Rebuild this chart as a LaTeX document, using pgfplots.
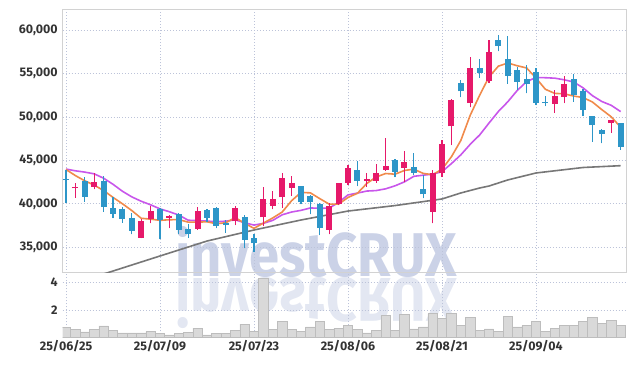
\documentclass[border=0pt]{standalone}
\usepackage{fontspec}
\setmainfont{Fira Sans}
\usepackage{graphicx}
\usepackage{pgfplots}
\pgfplotsset{compat=1.18}
\usepackage{pgfplotstable}
\definecolor{upc}{HTML}{E6196A}
\definecolor{dnc}{HTML}{2D96C8}
\definecolor{ma5c}{HTML}{F08A4B}
\definecolor{ma10c}{HTML}{C856EB}
\definecolor{ma60c}{HTML}{777777}
\definecolor{gridc}{HTML}{BCC3D9}
\definecolor{framec}{HTML}{D2D2D2}
\definecolor{wm}{HTML}{CBD2E7}
\definecolor{wmr}{HTML}{E3E7F2}
\definecolor{volf}{HTML}{D9D9D9}
\definecolor{vold}{HTML}{BDBDBD}
\definecolor{tickc}{HTML}{333333}

\pgfplotstableread{
i O H L C
1 41780 42400 40700 41920
3 41950 43500 41650 42500
8 36100 38200 36050 38000
9 38250 39750 37750 39200
11 38400 38700 37200 38600
14 37150 39600 37000 39200
18 38000 39750 37550 39550
21 38450 41950 37450 40500
22 39800 41500 39350 40500
23 40750 43500 39550 42950
24 41800 43250 40950 42350
28 37000 40050 36500 39800
29 40000 42400 39850 42350
30 42450 44450 42150 44100
32 42650 43600 41950 42850
33 42650 44550 42450 43500
34 43900 47550 43800 44350
36 44150 46100 42550 44800
39 39100 43900 37750 43600
40 43500 47400 43100 46900
41 48900 52100 46750 51900
43 51600 56900 51100 55600
45 54100 58800 53900 57500
52 51500 53100 50500 52400
53 52300 54700 51600 53800
58 49300 49650 48200 49650
}\upTab

\pgfplotstableread{
i O H L C
0 42870 43900 40050 42730
2 42650 43100 40250 40800
4 42650 43250 39100 39650
5 39500 40800 38350 38850
6 39400 39650 37850 38250
7 38350 39000 36500 36900
10 39350 39500 35900 38150
12 38800 38900 36500 37000
13 37100 37700 36100 36550
15 39300 39350 37900 38350
16 39550 39650 37200 37500
17 37850 38100 36700 37550
19 38500 38700 34900 35850
20 36100 36500 34500 35450
25 42050 42100 39950 40250
26 40950 41000 38800 40250
27 40000 40100 36400 37200
31 43950 44950 42050 42650
35 45100 45200 43050 43700
37 44200 45800 43300 43600
38 41650 43300 40650 41100
42 53900 54300 52250 52950
44 55600 56700 54500 55050
46 58800 59450 57550 58150
47 56650 59300 53800 54750
48 55400 55800 53100 54050
49 54350 55950 52700 53800
50 55200 55600 51350 51650
51 51720 52400 51250 51580
54 54350 54950 51750 52500
55 53000 53200 50100 50800
56 50100 50100 47150 49050
57 48500 48600 46950 48050
59 49350 49350 46250 46550
}\dnTab

\pgfplotstableread{
i ma5 ma10
0 43950 44000
1 43250 43800
2 42650 43650
3 42150 43450
4 41534 42950
5 40740 42250
6 40011 41450
7 39229 40800
8 38338 40300
9 38239 39887
10 38101 39421
11 38170 39091
12 38186 38708
13 37894 38116
14 37894 38067
15 37933 38017
16 37710 37940
17 37825 38006
18 38424 38159
19 37756 37825
20 37181 37557
21 37788 37749
22 38379 38102
23 39056 38740
24 40361 39059
25 41318 39250
26 41263 39526
27 40596 39488
28 39965 39511
29 39965 40163
30 40734 41026
31 41210 41237
32 42345 41470
33 43090 41528
34 43488 41727
35 43410 42072
36 43840 42525
37 43985 43165
38 43502 43296
39 43348 43418
40 43985 43698
41 45412 44626
42 47285 45635
43 50191 46846
44 52485 47916
45 54602 49294
46 55844 50628
47 56203 51744
48 55888 53040
49 55635 54060
50 54468 54535
51 53175 54510
52 52708 54456
53 52655 54272
54 52402 54019
55 52234 53351
56 51716 52446
57 50842 51775
58 50014 51335
59 48824 50613
}\maTab

\pgfplotstableread{
i ma60
0 30550
5 32270
10 34000
15 35720
20 36990
25 38140
30 39170
35 39800
40 40560
42 41250
44 41820
45 42050
47 42750
50 43550
55 44180
59 44390
}\longTab

\pgfplotstableread{
i v
0 0.75
1 0.56
2 0.39
3 0.56
4 0.83
5 0.49
6 0.32
7 0.32
8 0.32
9 0.41
10 0.27
11 0.17
12 0.27
13 0.34
14 0.68
15 0.17
16 0.27
17 0.27
18 0.49
19 0.97
20 0.44
21 4.32
22 0.56
23 1.19
24 0.56
25 0.41
26 0.76
27 1.14
28 0.56
29 0.68
30 0.85
31 0.56
32 0.32
33 0.53
34 1.58
35 0.49
36 1.65
37 0.61
38 0.76
39 1.72
40 1.41
41 1.77
42 0.85
43 1.48
44 0.49
45 0.61
46 0.41
47 1.53
48 0.76
49 0.85
50 1.19
51 0.41
52 0.68
53 0.85
54 0.85
55 1.19
56 1.48
57 1.00
58 1.26
59 0.90
}\volTab

\pgfplotsset{
  candle/.style 2 args={only marks, mark size=0pt, mark options={draw=none, fill=none}, forget plot,
    error bars/.cd, y dir=plus, y explicit, error mark=none, error bar style={draw=#1, line width=#2}},
}

\begin{document}
\begin{tikzpicture}[x=1bp,y=1bp]
\useasboundingbox (0,0) rectangle (635,366);
% watermark
\node[anchor=base, text=wm, font=\bfseries\fontsize{62}{62}\selectfont, xscale=0.88, inner sep=0] at (316.5,90) {investCRUX};
\node[anchor=base, text=wmr, font=\bfseries\fontsize{62}{62}\selectfont, xscale=0.88, inner sep=0] at (316.5,88) {\scalebox{1}[-1]{investCRUX}};

\begin{axis}[
  at={(62.7bp,93.3bp)}, anchor=south west,
  scale only axis, width=564bp, height=263.4bp,
  xmin=-0.351, xmax=59.65, ymin=32077, ymax=62382,
  axis line style={framec, line width=1pt},
  major tick length=0,
  xtick={0,10,20,30,40,50}, xticklabels={},
  ytick={35000,40000,45000,50000,55000,60000},
  scaled y ticks=false,
  yticklabel style={/pgf/number format/1000 sep={,}, /pgf/number format/assume math mode=true, xshift=-1.5bp},
  tick label style={font=\bfseries\fontsize{12.5}{12.5}\selectfont, text=tickc},
  grid=major,
  major grid style={gridc, dash pattern=on 1pt off 2pt, line width=0.7pt},
  clip=true,
]
\addplot[ma60c, line width=1.6bp] table[x=i, y=ma60] \longTab;
\addplot[ma10c, line width=1.6bp] table[x=i, y=ma10] \maTab;
\addplot[ma5c, line width=1.6bp] table[x=i, y=ma5] \maTab;
% wicks
\addplot[candle={upc}{1.3bp}] table[x=i, y=L, y error plus expr=\thisrow{H}-\thisrow{L}] \upTab;
\addplot[candle={dnc}{1.3bp}] table[x=i, y=L, y error plus expr=\thisrow{H}-\thisrow{L}] \dnTab;
% bodies
\addplot[candle={upc}{6bp}] table[x=i, y=O, y error plus expr=\thisrow{C}-\thisrow{O}] \upTab;
\addplot[candle={dnc}{6bp}] table[x=i, y=C, y error plus expr=\thisrow{O}-\thisrow{C}] \dnTab;
\end{axis}

\begin{axis}[
  at={(62.7bp,28.7bp)}, anchor=south west,
  scale only axis, width=564bp, height=64.6bp,
  xmin=-0.351, xmax=59.65, ymin=0, ymax=4.73,
  axis line style={framec, line width=1pt},
  x axis line style={draw=none},
  major tick length=0,
  xtick={0,10,20,30,40,50},
  xticklabels={25/06/25,25/07/09,25/07/23,25/08/06,25/08/21,25/09/04},
  ytick={2,4},
  yticklabel style={/pgf/number format/assume math mode=true, xshift=-1.5bp},
  tick label style={font=\bfseries\fontsize{12.5}{12.5}\selectfont, text=tickc},
  grid=major,
  major grid style={gridc, dash pattern=on 1pt off 2pt, line width=0.7pt},
]
\addplot[ybar, bar width=9.4bp, fill=volf, draw=vold, line width=0.7bp] table[x=i, y=v] \volTab;
\node[rotate=90, font=\fontsize{10}{10}\selectfont, text=tickc] at (rel axis cs:-0.052,0.57) {$10^6$};
\end{axis}
\end{tikzpicture}
\end{document}
